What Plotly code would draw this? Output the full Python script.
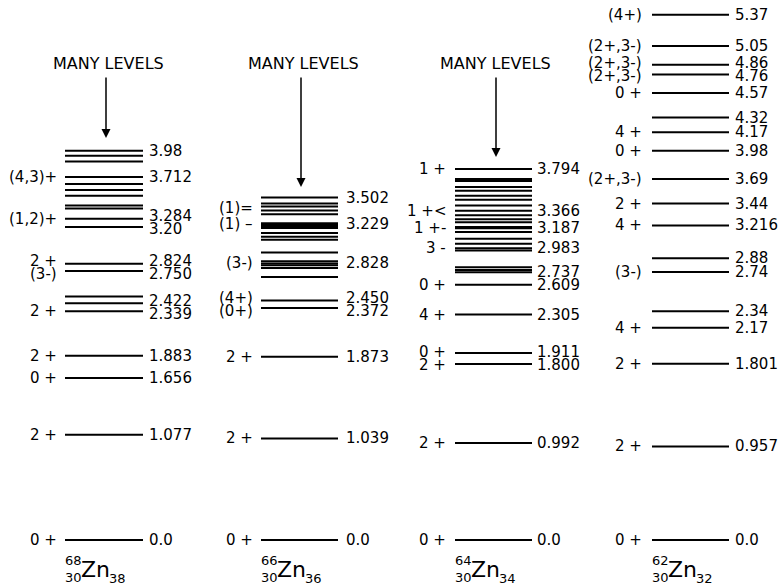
import plotly.graph_objects as go

# ---------------- data ----------------
zn68_levels = [0.0, 1.077, 1.656, 1.883, 2.339, 2.422, 2.49, 2.750, 2.824, 3.20, 3.284,
               3.39, 3.42, 3.52, 3.58, 3.64, 3.712, 3.87, 3.93, 3.98]
zn68_right = {0.0: "0.0", 1.077: "1.077", 1.656: "1.656", 1.883: "1.883", 2.339: "2.339",
              2.422: "2.422", 2.750: "2.750", 2.824: "2.824", 3.20: "3.20", 3.284: "3.284",
              3.712: "3.712", 3.98: "3.98"}
zn68_left = {0.0: "0 +", 1.077: "2 +", 1.656: "0 +", 1.883: "2 +", 2.339: "2 +",
             2.750: "(3-)", 2.824: "2 +", 3.284: "(1,2)+", 3.712: "(4,3)+"}

zn66_levels = [0.0, 1.039, 1.873, 2.372, 2.450, 2.69, 2.78, 2.81, 2.828, 2.85, 2.94,
               3.07, 3.10, 3.14, 3.19, 3.205, 3.215, 3.229, 3.24, 3.33, 3.37, 3.41, 3.44, 3.502]
zn66_right = {0.0: "0.0", 1.039: "1.039", 1.873: "1.873", 2.372: "2.372", 2.450: "2.450",
              2.828: "2.828", 3.229: "3.229", 3.502: "3.502"}
zn66_left = {0.0: "0 +", 1.039: "2 +", 1.873: "2 +", 2.372: "(0+)", 2.450: "(4+)",
             2.828: "(3-)", 3.229: "(1) \u2013", 3.39: "(1)="}

zn64_levels = [0.0, 0.992, 1.800, 1.911, 2.305, 2.609, 2.737, 2.76, 2.79, 2.96, 2.983,
               3.03, 3.08, 3.15, 3.187, 3.20, 3.25, 3.28, 3.32, 3.366, 3.42, 3.48, 3.52,
               3.57, 3.61, 3.67, 3.69, 3.794]
zn64_right = {0.0: "0.0", 0.992: "0.992", 1.800: "1.800", 1.911: "1.911", 2.305: "2.305",
              2.609: "2.609", 2.737: "2.737", 2.983: "2.983", 3.187: "3.187", 3.366: "3.366",
              3.794: "3.794"}
zn64_left = {0.0: "0 +", 0.992: "2 +", 1.800: "2 +", 1.911: "0 +", 2.305: "4 +",
             2.609: "0 +", 2.983: "3 -", 3.187: "1 +-", 3.366: "1 +<", 3.794: "1 +"}

zn62_levels = [0.0, 0.957, 1.801, 2.17, 2.34, 2.74, 2.88, 3.216, 3.44, 3.69, 3.98, 4.17,
               4.32, 4.57, 4.76, 4.86, 5.05, 5.37]
zn62_right = {0.0: "0.0", 0.957: "0.957", 1.801: "1.801", 2.17: "2.17", 2.34: "2.34",
              2.74: "2.74", 2.88: "2.88", 3.216: "3.216", 3.44: "3.44", 3.69: "3.69",
              3.98: "3.98", 4.17: "4.17", 4.32: "4.32", 4.57: "4.57", 4.76: "4.76",
              4.86: "4.86", 5.05: "5.05", 5.37: "5.37"}
zn62_left = {0.0: "0 +", 0.957: "2 +", 1.801: "2 +", 2.17: "4 +", 2.74: "(3-)",
             3.216: "4 +", 3.44: "2 +", 3.69: "(2+,3-)", 3.98: "0 +", 4.17: "4 +",
             4.57: "0 +", 4.76: "(2+,3-)", 4.86: "(2+,3-)", 5.05: "(2+,3-)", 5.37: "(4+)"}

nuclei = [("68", "30", "38"), ("66", "30", "36"), ("64", "30", "34"), ("62", "30", "32")]
many_levels = [True, True, True, False]

# ---------------- layout constants ----------------
W, H = 781, 586
Y0_PX, SCALE = 540.0, 97.8          # pixel row of 0 MeV, pixels per MeV


def e_of_px(py):
    return (Y0_PX - py) / SCALE


columns = [
    dict(levels=zn68_levels, right=zn68_right, left=zn68_left, x0=65, x1=143, rx=147, lx=59,
         arrow_x=106, text_x=108, tip_px=138),
    dict(levels=zn66_levels, right=zn66_right, left=zn66_left, x0=261, x1=338, rx=344, lx=255,
         arrow_x=301, text_x=303, tip_px=187),
    dict(levels=zn64_levels, right=zn64_right, left=zn64_left, x0=455, x1=532, rx=535, lx=448,
         arrow_x=496, text_x=495, tip_px=157),
    dict(levels=zn62_levels, right=zn62_right, left=zn62_left, x0=652, x1=729, rx=733, lx=644,
         arrow_x=None, text_x=None, tip_px=None),
]

FONT = "DejaVu Sans"
LABEL_SIZE = 15
MIN_GAP = 13.0 / SCALE


def spread(vals, gap=MIN_GAP):
    pos = sorted(vals)
    adj = list(pos)
    for _ in range(200):
        moved = False
        for i in range(len(adj) - 1):
            d = adj[i + 1] - adj[i]
            if d < gap - 1e-6:
                push = (gap - d) / 2
                adj[i] -= push
                adj[i + 1] += push
                moved = True
        if not moved:
            break
    return dict(zip(pos, adj))


fig = go.Figure()
annotations = []

for col, nuc, many in zip(columns, nuclei, many_levels):
    xs, ys = [], []
    for e in col["levels"]:
        xs += [col["x0"], col["x1"], None]
        ys += [e, e, None]
    fig.add_trace(go.Scatter(x=xs, y=ys, mode="lines", line=dict(color="black", width=2),
                             hoverinfo="skip", showlegend=False))

    rpos = spread(list(col["right"].keys()))
    for e, t in col["right"].items():
        annotations.append(dict(x=col["rx"], y=rpos[e], text=t, xanchor="left",
                                yanchor="middle", showarrow=False,
                                font=dict(family=FONT, size=LABEL_SIZE, color="black")))
    lpos = spread(list(col["left"].keys()))
    for e, t in col["left"].items():
        annotations.append(dict(x=col["lx"], y=lpos[e], text=t, xanchor="right",
                                yanchor="middle", showarrow=False,
                                font=dict(family=FONT, size=LABEL_SIZE, color="black")))

    # nucleus label
    a, z, n = nuc
    bx = col["x0"] - 2
    annotations += [
        dict(x=bx, y=e_of_px(560), text=a, xanchor="left", yanchor="middle", showarrow=False,
             font=dict(family=FONT, size=13, color="black")),
        dict(x=bx, y=e_of_px(577), text=z, xanchor="left", yanchor="middle", showarrow=False,
             font=dict(family=FONT, size=13, color="black")),
        dict(x=bx + 16, y=e_of_px(569), text="Zn", xanchor="left", yanchor="middle",
             showarrow=False, font=dict(family=FONT, size=22, color="black")),
        dict(x=bx + 44, y=e_of_px(578), text=n, xanchor="left", yanchor="middle",
             showarrow=False, font=dict(family=FONT, size=13, color="black")),
    ]

    if many:
        tip = e_of_px(col["tip_px"])
        annotations.append(dict(x=col["arrow_x"], y=tip, ax=0, ay=-(col["tip_px"] - 76),
                                text="", showarrow=True, arrowhead=2,
                                arrowsize=1.2, arrowwidth=1.5, arrowcolor="black"))
        annotations.append(dict(x=col["text_x"], y=e_of_px(63), text="MANY LEVELS",
                                showarrow=False, xanchor="center", yanchor="middle",
                                font=dict(family=FONT, size=16, color="black")))

fig.update_layout(
    width=W, height=H, margin=dict(l=0, r=0, t=0, b=0),
    paper_bgcolor="white", plot_bgcolor="white",
    xaxis=dict(range=[0, W], visible=False, fixedrange=True),
    yaxis=dict(range=[e_of_px(H), e_of_px(0)], visible=False, fixedrange=True),
    annotations=annotations, showlegend=False,
)

fig.write_html("out.html")
